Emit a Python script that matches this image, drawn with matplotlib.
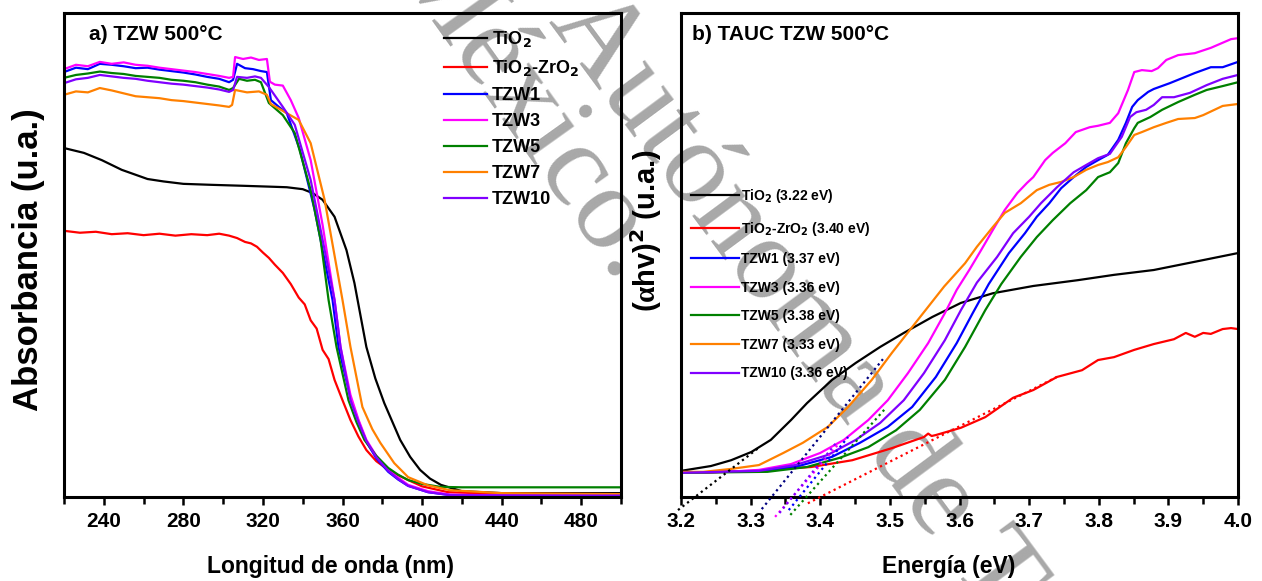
import matplotlib
matplotlib.use('Agg')
import matplotlib.pyplot as plt
from matplotlib.ticker import MultipleLocator

plt.rcParams['font.family'] = ['Liberation Sans Narrow', 'Liberation Sans', 'DejaVu Sans']
plt.rcParams['font.weight'] = 'bold'
plt.rcParams['axes.labelweight'] = 'bold'
plt.rcParams['mathtext.fontset'] = 'custom'
plt.rcParams['mathtext.bf'] = 'Liberation Sans Narrow:bold'
plt.rcParams['mathtext.rm'] = 'Liberation Serif'
plt.rcParams['mathtext.default'] = 'bf'

names = ['TiO$_2$', 'TiO$_2$-ZrO$_2$', 'TZW1', 'TZW3', 'TZW5', 'TZW7', 'TZW10']
colors = ['#000000', '#ff0000', '#0000ff', '#ff00ff', '#008000', '#ff8000', '#8000ff']

# --- a) UV-Vis absorbance ---
wl_tio2 = [220, 230, 239, 249, 262, 270, 280, 294, 310, 325, 332, 340, 345, 350, 356, 362, 366, 372, 376.5, 381, 389, 394, 399, 404, 409.5, 420, 440, 470, 500]
abs_tio2 = [0.721, 0.711, 0.696, 0.676, 0.657, 0.652, 0.647, 0.645, 0.643, 0.641, 0.640, 0.636, 0.628, 0.614, 0.579, 0.510, 0.442, 0.310, 0.245, 0.194, 0.118, 0.083, 0.056, 0.038, 0.025, 0.012, 0.008, 0.008, 0.008]

wl_tz = [220, 228, 236, 244, 252, 260, 268, 276, 284, 292, 298, 303, 307, 311, 314, 317, 320, 323, 326, 330, 334, 338, 341, 344, 347, 350, 353, 356, 360, 364, 368, 372, 377, 383, 388, 393, 400, 413, 440, 500]
abs_tz = [0.550, 0.546, 0.548, 0.543, 0.545, 0.541, 0.544, 0.540, 0.543, 0.541, 0.544, 0.540, 0.535, 0.527, 0.524, 0.517, 0.505, 0.494, 0.480, 0.463, 0.440, 0.412, 0.398, 0.365, 0.348, 0.304, 0.285, 0.242, 0.200, 0.159, 0.125, 0.097, 0.074, 0.056, 0.045, 0.035, 0.022, 0.010, 0.006, 0.006]

wl_tzw1 = [220, 226, 232, 238, 244, 250, 256, 262, 268, 274, 280, 286, 292, 298, 303, 305, 307, 311, 315, 319, 322, 324, 328, 332, 338.6, 346, 355, 358, 364, 368, 372, 377, 383, 388, 393, 403, 414, 440, 500]
abs_tzw1 = [0.878, 0.887, 0.884, 0.895, 0.893, 0.890, 0.886, 0.887, 0.883, 0.880, 0.877, 0.873, 0.868, 0.864, 0.857, 0.862, 0.895, 0.886, 0.884, 0.880, 0.878, 0.820, 0.806, 0.793, 0.717, 0.593, 0.407, 0.310, 0.205, 0.157, 0.114, 0.080, 0.052, 0.036, 0.023, 0.010, 0.004, 0.003, 0.003]

wl_tzw3 = [220, 226, 232, 238, 244, 250, 256, 262, 268, 274, 280, 286, 292, 298, 303, 305, 306, 310, 314, 318, 322, 323.5, 326, 330, 334, 338, 344, 350, 356, 359, 364, 368, 372, 377, 383, 388, 393, 403, 414, 440, 500]
abs_tzw3 = [0.884, 0.893, 0.890, 0.899, 0.895, 0.898, 0.893, 0.891, 0.887, 0.884, 0.881, 0.878, 0.874, 0.870, 0.866, 0.868, 0.909, 0.905, 0.908, 0.903, 0.905, 0.858, 0.852, 0.850, 0.820, 0.783, 0.696, 0.562, 0.407, 0.310, 0.211, 0.160, 0.118, 0.085, 0.056, 0.040, 0.025, 0.012, 0.005, 0.003, 0.003]

wl_tzw5 = [220, 226, 232, 238, 244, 250, 256, 262, 268, 274, 280, 286, 292, 298, 303, 305, 308, 312, 316, 319, 323, 330, 336, 344, 349, 353, 357, 363, 367, 371, 377, 383, 388, 393, 400, 409, 420, 500]
abs_tzw5 = [0.866, 0.872, 0.875, 0.879, 0.876, 0.874, 0.870, 0.868, 0.866, 0.862, 0.860, 0.857, 0.852, 0.848, 0.841, 0.845, 0.864, 0.860, 0.862, 0.857, 0.814, 0.789, 0.752, 0.634, 0.531, 0.407, 0.310, 0.200, 0.155, 0.118, 0.085, 0.060, 0.046, 0.035, 0.027, 0.021, 0.020, 0.020]

wl_tzw7 = [220, 226, 232, 238, 244, 250, 256, 262, 268, 274, 280, 286, 292, 298, 303, 304.5, 306, 312, 318, 322, 324, 332, 338, 344, 351, 360, 364, 370, 375, 379, 386, 393, 403, 414, 440, 500]
abs_tzw7 = [0.831, 0.838, 0.836, 0.845, 0.840, 0.834, 0.828, 0.826, 0.824, 0.820, 0.818, 0.815, 0.812, 0.809, 0.806, 0.810, 0.841, 0.836, 0.838, 0.831, 0.812, 0.793, 0.779, 0.731, 0.614, 0.407, 0.310, 0.186, 0.140, 0.112, 0.070, 0.041, 0.024, 0.014, 0.008, 0.006]

wl_tzw10 = [220, 226, 232, 238, 244, 250, 256, 262, 268, 274, 280, 286, 292, 298, 303, 305, 307, 312, 316, 319, 323, 330, 336, 344, 349, 356, 359, 364, 368, 372, 377, 383, 388, 393, 403, 414, 440, 500]
abs_tzw10 = [0.855, 0.863, 0.866, 0.872, 0.869, 0.866, 0.864, 0.860, 0.857, 0.854, 0.852, 0.849, 0.846, 0.842, 0.837, 0.841, 0.868, 0.866, 0.869, 0.866, 0.847, 0.806, 0.769, 0.655, 0.552, 0.407, 0.310, 0.200, 0.155, 0.116, 0.082, 0.054, 0.037, 0.023, 0.010, 0.004, 0.003, 0.003]

# --- b) Tauc plot ---
e_tio2 = [3.200, 3.243, 3.272, 3.301, 3.329, 3.358, 3.381, 3.417, 3.451, 3.486, 3.520, 3.561, 3.602, 3.648, 3.706, 3.770, 3.822, 3.879, 3.938, 4.000]
t_tio2 = [0.054, 0.064, 0.076, 0.093, 0.118, 0.159, 0.194, 0.242, 0.277, 0.310, 0.339, 0.372, 0.401, 0.421, 0.436, 0.448, 0.459, 0.469, 0.486, 0.504]

e_tz = [3.200, 3.301, 3.387, 3.446, 3.503, 3.549, 3.555, 3.560, 3.566, 3.602, 3.637, 3.677, 3.706, 3.740, 3.776, 3.799, 3.822, 3.851, 3.879, 3.908, 3.925, 3.938, 3.950, 3.961, 3.978, 3.990, 4.000]
t_tz = [0.050, 0.054, 0.062, 0.076, 0.101, 0.124, 0.131, 0.126, 0.128, 0.143, 0.165, 0.205, 0.221, 0.248, 0.262, 0.283, 0.289, 0.304, 0.316, 0.326, 0.339, 0.331, 0.339, 0.337, 0.347, 0.349, 0.347]

e_tzw1 = [3.200, 3.318, 3.369, 3.417, 3.457, 3.497, 3.532, 3.566, 3.596, 3.619, 3.642, 3.671, 3.694, 3.711, 3.729, 3.746, 3.764, 3.782, 3.799, 3.813, 3.828, 3.839, 3.848, 3.856, 3.871, 3.879, 3.902, 3.938, 3.961, 3.978, 4.000]
t_tzw1 = [0.050, 0.054, 0.064, 0.083, 0.112, 0.145, 0.186, 0.248, 0.318, 0.380, 0.440, 0.504, 0.545, 0.579, 0.607, 0.638, 0.661, 0.682, 0.696, 0.707, 0.738, 0.773, 0.806, 0.820, 0.837, 0.843, 0.855, 0.876, 0.888, 0.888, 0.899]

e_tzw3 = [3.200, 3.243, 3.312, 3.358, 3.400, 3.434, 3.469, 3.497, 3.526, 3.555, 3.579, 3.596, 3.614, 3.631, 3.648, 3.665, 3.683, 3.697, 3.706, 3.723, 3.734, 3.752, 3.767, 3.787, 3.799, 3.816, 3.828, 3.842, 3.851, 3.862, 3.876, 3.885, 3.897, 3.914, 3.938, 3.961, 3.990, 4.000]
t_tzw3 = [0.050, 0.050, 0.056, 0.068, 0.091, 0.118, 0.159, 0.200, 0.256, 0.318, 0.380, 0.428, 0.469, 0.510, 0.552, 0.593, 0.628, 0.649, 0.661, 0.696, 0.711, 0.731, 0.754, 0.764, 0.767, 0.773, 0.793, 0.841, 0.878, 0.882, 0.880, 0.886, 0.903, 0.913, 0.917, 0.928, 0.946, 0.948]

e_tzw5 = [3.200, 3.324, 3.381, 3.428, 3.469, 3.509, 3.543, 3.579, 3.608, 3.637, 3.660, 3.688, 3.711, 3.734, 3.759, 3.782, 3.799, 3.816, 3.828, 3.839, 3.851, 3.856, 3.874, 3.891, 3.914, 3.938, 3.955, 3.978, 4.000]
t_tzw5 = [0.050, 0.052, 0.062, 0.081, 0.103, 0.138, 0.180, 0.242, 0.310, 0.386, 0.440, 0.496, 0.537, 0.572, 0.607, 0.634, 0.661, 0.671, 0.690, 0.731, 0.762, 0.773, 0.785, 0.800, 0.816, 0.831, 0.841, 0.849, 0.857]

e_tzw7 = [3.200, 3.232, 3.272, 3.312, 3.347, 3.375, 3.411, 3.440, 3.474, 3.503, 3.532, 3.555, 3.578, 3.608, 3.625, 3.648, 3.665, 3.688, 3.711, 3.729, 3.746, 3.764, 3.782, 3.799, 3.813, 3.828, 3.839, 3.851, 3.862, 3.879, 3.897, 3.914, 3.938, 3.950, 3.978, 4.000]
t_tzw7 = [0.052, 0.052, 0.058, 0.066, 0.091, 0.112, 0.145, 0.186, 0.242, 0.298, 0.351, 0.393, 0.435, 0.483, 0.517, 0.558, 0.587, 0.607, 0.634, 0.645, 0.651, 0.661, 0.676, 0.686, 0.692, 0.702, 0.723, 0.748, 0.754, 0.764, 0.773, 0.781, 0.783, 0.789, 0.808, 0.812]

e_tzw10 = [3.200, 3.312, 3.364, 3.411, 3.451, 3.486, 3.520, 3.549, 3.579, 3.602, 3.625, 3.654, 3.677, 3.700, 3.717, 3.740, 3.764, 3.782, 3.799, 3.816, 3.833, 3.845, 3.854, 3.868, 3.879, 3.891, 3.908, 3.931, 3.955, 3.978, 4.000]
t_tzw10 = [0.050, 0.054, 0.066, 0.087, 0.118, 0.153, 0.200, 0.256, 0.324, 0.386, 0.443, 0.496, 0.545, 0.579, 0.607, 0.640, 0.671, 0.686, 0.700, 0.709, 0.744, 0.785, 0.795, 0.800, 0.810, 0.826, 0.826, 0.835, 0.851, 0.864, 0.872]

# band gaps (x intercept of the linear fits), slopes and fit extents
band_gap = [3.22, 3.40, 3.37, 3.36, 3.38, 3.33, 3.36]
fit_slope = [1.11, 0.73, 1.77, 1.65, 1.61, 1.78, 1.78]
fit_end = [3.313, 3.74, 3.44, 3.428, 3.492, 3.49, 3.423]
fit_low = [-0.027, -0.013, -0.027, -0.041, -0.037, -0.025, -0.033]
fit_colors = ['#000000', '#ff0000', '#0000ff', '#ff00ff', '#008000', '#000080', '#8000ff']

abs_x = [wl_tio2, wl_tz, wl_tzw1, wl_tzw3, wl_tzw5, wl_tzw7, wl_tzw10]
abs_y = [abs_tio2, abs_tz, abs_tzw1, abs_tzw3, abs_tzw5, abs_tzw7, abs_tzw10]
tauc_x = [e_tio2, e_tz, e_tzw1, e_tzw3, e_tzw5, e_tzw7, e_tzw10]
tauc_y = [t_tio2, t_tz, t_tzw1, t_tzw3, t_tzw5, t_tzw7, t_tzw10]

W, H = 1262, 581
fig = plt.figure(figsize=(W / 100, H / 100), dpi=100)
ax1 = fig.add_axes([64 / W, 1 - 497 / H, 557 / W, 484 / H])
ax2 = fig.add_axes([681 / W, 1 - 497 / H, 557 / W, 484 / H])


def style_axes(ax):
    ax.patch.set_alpha(0)
    for s in ax.spines.values():
        s.set_linewidth(2.2)
    ax.tick_params(axis='x', which='both', direction='out', width=1.8, labelsize=15, pad=5)
    ax.tick_params(axis='x', which='major', length=6)
    ax.tick_params(axis='x', which='minor', length=5)
    ax.tick_params(axis='y', which='both', left=False, labelleft=False)


for x, y, c, n in zip(abs_x, abs_y, colors, names):
    ax1.plot(x, y, color=c, lw=1.6, label=n)
ax1.set_xlim(220, 500)
ax1.set_ylim(0, 1.0)
ax1.xaxis.set_major_locator(MultipleLocator(40))
ax1.xaxis.set_minor_locator(MultipleLocator(20))
ax1.set_xticks(range(240, 500, 40))
style_axes(ax1)
ax1.set_xlabel('Longitud de onda (nm)', fontsize=16.5, fontweight='bold')
ax1.xaxis.set_label_coords(0.478, -0.12)
ax1.set_ylabel('Absorbancia (u.a.)', fontsize=25, fontweight='bold',
               family=['Liberation Sans', 'DejaVu Sans'])
ax1.yaxis.set_label_coords(-0.034, 0.49)
ax1.text(0.045, 0.955, 'a) TZW 500°C', transform=ax1.transAxes, fontsize=15, va='center')
ax1.legend(loc='upper left', bbox_to_anchor=(0.666, 0.985), frameon=False, fontsize=13,
           handlelength=2.4, handletextpad=0.25, labelspacing=0.5, borderpad=0)

for x, y, c, n, eg in zip(tauc_x, tauc_y, colors, names, band_gap):
    ax2.plot(x, y, color=c, lw=1.6, label=f'{n} ({eg:.2f} eV)')
for eg, k, e1, v0, fc in zip(band_gap, fit_slope, fit_end, fit_low, fit_colors):
    e0 = eg + v0 / k
    ax2.plot([e0, e1], [k * (e0 - eg), k * (e1 - eg)], color=fc, lw=1.6,
             linestyle=(0, (1, 1.6)), clip_on=False, zorder=3)
ax2.set_xlim(3.2, 4.0)
ax2.set_ylim(0, 1.0)
ax2.xaxis.set_major_locator(MultipleLocator(0.1))
ax2.xaxis.set_minor_locator(MultipleLocator(0.05))
ax2.xaxis.set_major_formatter(plt.FormatStrFormatter('%.1f'))
style_axes(ax2)
ax2.set_xlabel('Energía (eV)', fontsize=16.5, fontweight='bold')
ax2.xaxis.set_label_coords(0.481, -0.12)
ax2.set_ylabel(r'($\mathrm{\alpha}$hv)$^{2}$ (u.a.)', fontsize=21, fontweight='bold',
               family=['Liberation Sans', 'DejaVu Sans'])
ax2.yaxis.set_label_coords(-0.03, 0.55)
ax2.text(0.02, 0.955, 'b) TAUC TZW 500°C', transform=ax2.transAxes, fontsize=15, va='center')
ax2.legend(loc='upper left', bbox_to_anchor=(0.006, 0.655), frameon=False, fontsize=10,
           handlelength=3.4, handletextpad=0.2, labelspacing=1.05, borderpad=0)

# watermark
wm = dict(va='baseline', rotation_mode='anchor', fontsize=86,
          family='Liberation Serif', fontweight='normal', color='#a8a8a8', zorder=-1)
fig.text(617 / W, 295 / H, 'México.', ha='right', rotation=-54.5, **wm)
fig.text(548 / W, 560 / H, 'Autónoma de T', ha='left', rotation=-53.5, **wm)

fig.savefig('out.png', dpi=100)
